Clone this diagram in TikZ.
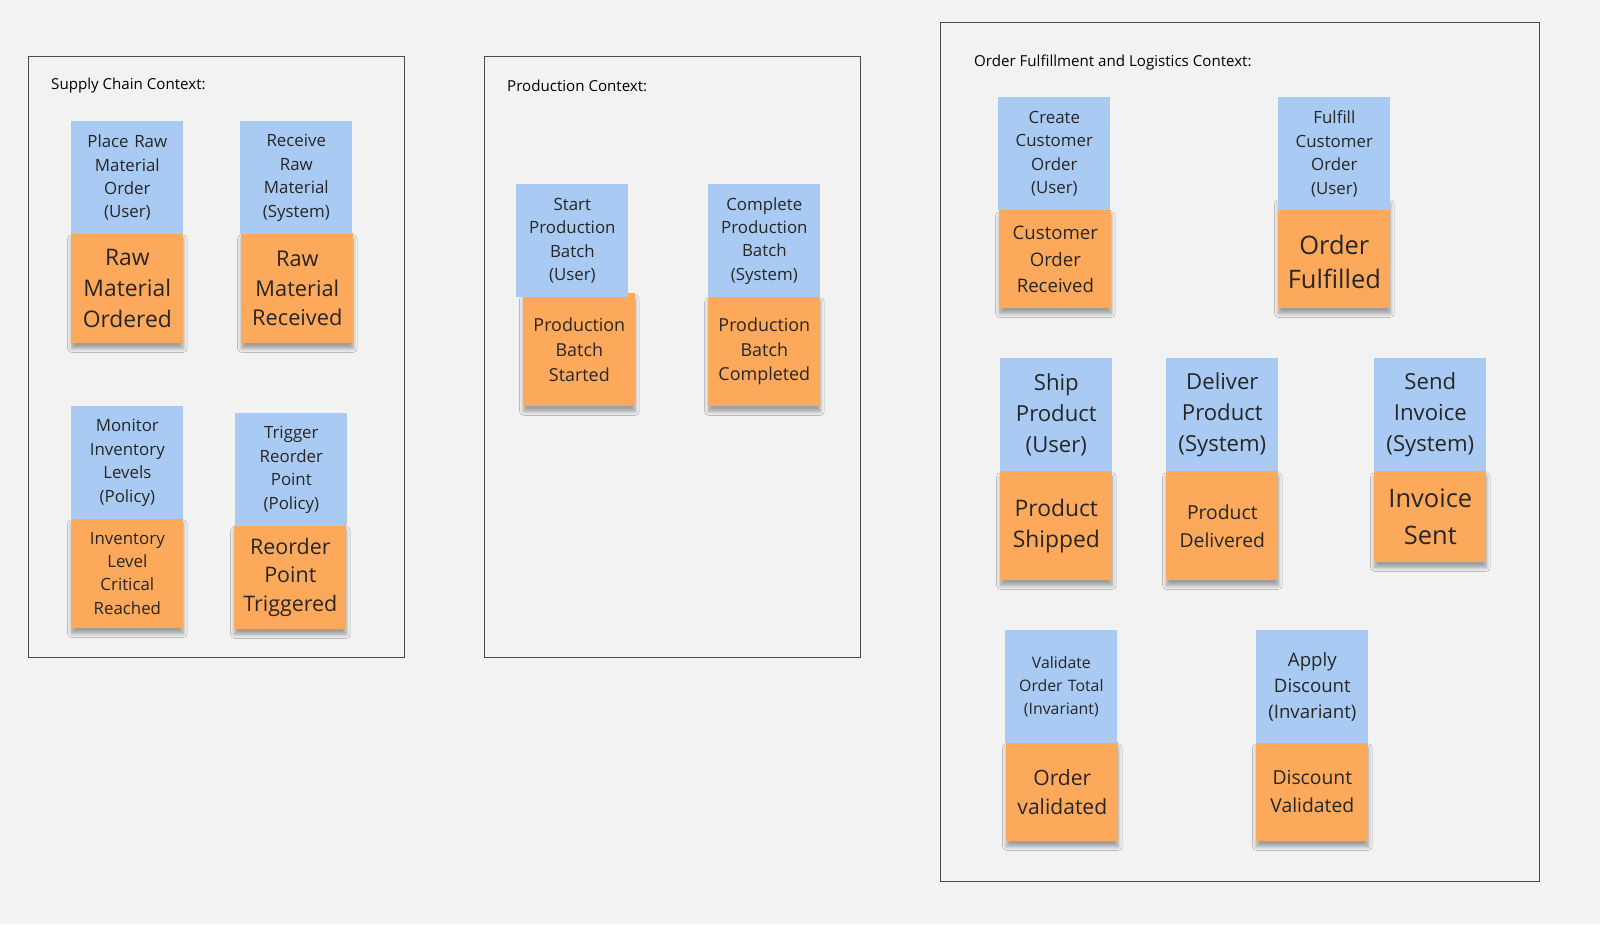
\documentclass[tikz,border=0pt]{standalone}
\usepackage{fontspec}
\setmainfont{Open Sans}
\usetikzlibrary{shadows.blur}
\definecolor{bgcol}{HTML}{F2F2F2}
\definecolor{cmdblue}{HTML}{A9CBF3}
\definecolor{evtorange}{HTML}{FDA95C}
\newcommand{\fsz}[2]{\fontsize{#1}{#2}\selectfont}
\begin{document}
\begin{tikzpicture}[x=0.02cm,y=-0.02cm,
  frame/.style={draw=black!70, line width=0.5pt},
  title/.style={anchor=west, font=\fsz{8.6}{11}},
  note/.style={anchor=north west, minimum width=2.24cm, text width=2.15cm,
    align=center, inner sep=0pt, text=black!85},
  cmd/.style={note, fill=cmdblue, minimum height=2.26cm, font=\fsz{9.6}{13.3}},
  evt/.style={note, fill=evtorange, minimum height=2.2cm, font=\fsz{13}{17.6},
    blur shadow={shadow xshift=0pt, shadow yshift=-3pt, shadow opacity=35, shadow blur steps=6}},
  evts/.style={evt, font=\fsz{10.2}{14}}]
  \useasboundingbox[fill=bgcol] (0,0) rectangle (1600,924);

  % Kontexte
  \draw[frame] (28,56) rectangle (404,657);
  \draw[frame] (484,56) rectangle (860,657);
  \draw[frame] (940,22) rectangle (1539,881);
  \node[title] (tsupply) at (45,86) {Supply Chain Context:};
  \node[title] (tprod) at (501,86) {Production Context:};
  \node[title] (torder) at (968,63) {Order Fulfillment and Logistics Context:};

  % Supply Chain
  \node[evt] (eraw) at (71,233) {Raw\\Material\\Ordered};
  \node[cmd] (craw) at (71,121) {Place Raw\\Material\\Order\\(User)};
  \node[evt, font=\fsz{12.4}{16.7}] (erec) at (241,233) {Raw\\Material\\Received};
  \node[cmd] (crec) at (240,121) {Receive\\Raw\\Material\\(System)};
  \node[evt, font=\fsz{9.6}{13.3}] (einv) at (71,518) {Inventory\\Level\\Critical\\Reached};
  \node[cmd] (cinv) at (71,406) {Monitor\\Inventory\\Levels\\(Policy)};
  \node[evt, minimum height=2.08cm, font=\fsz{12.2}{16}] (ereo) at (234,525) {Reorder\\Point\\Triggered};
  \node[cmd] (creo) at (235,413) {Trigger\\Reorder\\Point\\(Policy)};

  % Production
  \node[evts, minimum height=2.26cm] (estart) at (523,293) {Production\\Batch\\Started};
  \node[cmd] (cstart) at (516,184) {Start\\Production\\Batch\\(User)};
  \node[evts] (ecomp) at (708,296) {Production\\Batch\\Completed};
  \node[cmd] (ccomp) at (708,184) {Complete\\Production\\Batch\\(System)};

  % Order Fulfillment
  \node[evts, minimum height=1.96cm, font=\fsz{10.6}{15}] (ecust) at (999,210) {Customer\\Order\\Received};
  \node[cmd] (ccust) at (998,97) {Create\\Customer\\Order\\(User)};
  \node[evt, font=\fsz{14.5}{19.5}] (eful) at (1278,198) {\\[1pt]Order\\Fulfilled};
  \node[cmd] (cful) at (1278,97) {Fulfill\\Customer\\Order\\(User)};
  \node[evt, minimum height=2.18cm] (eship) at (1000,471) {Product\\Shipped};
  \node[cmd, font=\fsz{12.6}{17.6}] (cship) at (1000,358) {Ship\\Product\\(User)};
  \node[evts, minimum height=2.18cm, font=\fsz{11}{16}] (edel) at (1166,471) {Product\\Delivered};
  \node[cmd, font=\fsz{12.6}{17.6}] (cdel) at (1166,358) {Deliver\\Product\\(System)};
  \node[evt, minimum height=1.82cm, font=\fsz{14.5}{21}] (esend) at (1374,471) {Invoice\\Sent};
  \node[cmd, font=\fsz{12.6}{17.6}] (csend) at (1374,358) {Send\\Invoice\\(System)};
  \node[evt, minimum height=1.98cm, font=\fsz{12}{16.5}] (eval) at (1006,742) {Order\\validated};
  \node[cmd, font=\fsz{9}{13.3}] (cval) at (1005,630) {Validate\\Order Total\\(Invariant)};
  \node[evt, minimum height=1.98cm, font=\fsz{11}{16}] (edisc) at (1256,742) {Discount\\Validated};
  \node[cmd, font=\fsz{10.6}{15}] (cdisc) at (1256,630) {Apply\\Discount\\(Invariant)};
\end{tikzpicture}
\end{document}
